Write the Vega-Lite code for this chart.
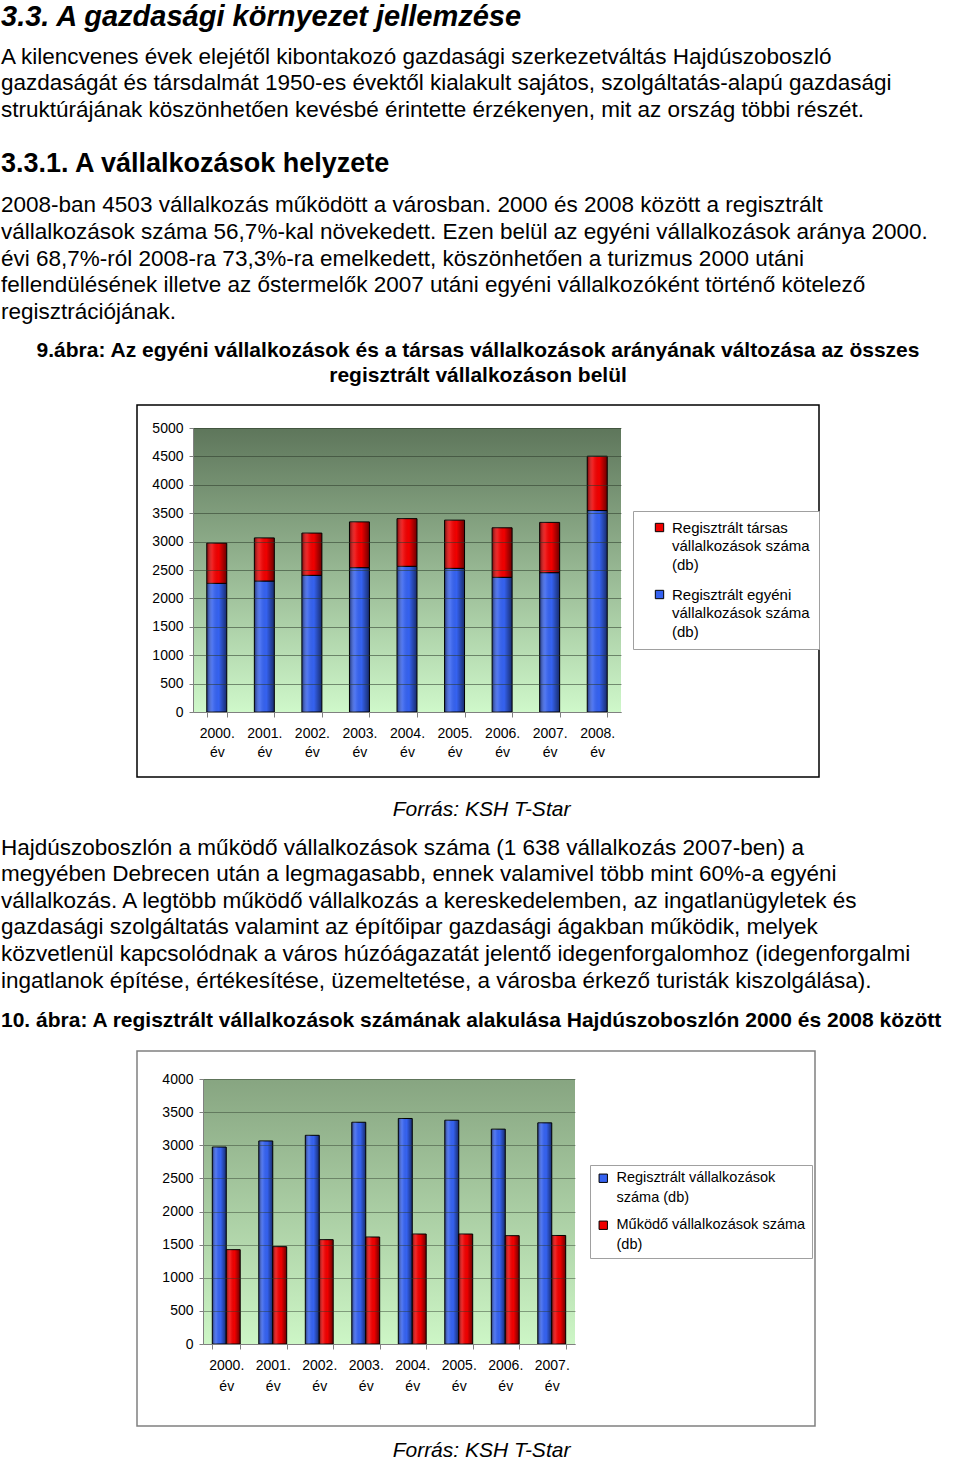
{
  "$schema": "https://vega.github.io/schema/vega-lite/v6.json",
  "background": "white",
  "padding": {"left": 0, "top": 2, "right": 0, "bottom": 0},
  "config": {
    "font": "Liberation Sans",
    "view": {"stroke": "#000", "strokeWidth": 1.5},
    "title": {"color": "#000", "subtitleColor": "#000", "font": "Liberation Sans", "subtitleFont": "Liberation Sans"},
    "axis": {"labelColor": "#000", "labelFont": "Liberation Sans", "labelFontSize": 14, "domainColor": "#808080", "tickColor": "#808080"}
  },
  "resolve": {"scale": {"color": "independent"}, "legend": {"color": "independent"}},
  "datasets": {
    "c1": [
      {"year": "2000. év", "kind": "Regisztrált egyéni vállalkozások száma (db)", "value": 2265},
      {"year": "2001. év", "kind": "Regisztrált egyéni vállalkozások száma (db)", "value": 2306},
      {"year": "2002. év", "kind": "Regisztrált egyéni vállalkozások száma (db)", "value": 2406},
      {"year": "2003. év", "kind": "Regisztrált egyéni vállalkozások száma (db)", "value": 2541},
      {"year": "2004. év", "kind": "Regisztrált egyéni vállalkozások száma (db)", "value": 2565},
      {"year": "2005. év", "kind": "Regisztrált egyéni vállalkozások száma (db)", "value": 2529},
      {"year": "2006. év", "kind": "Regisztrált egyéni vállalkozások száma (db)", "value": 2371},
      {"year": "2007. év", "kind": "Regisztrált egyéni vállalkozások száma (db)", "value": 2453},
      {"year": "2008. év", "kind": "Regisztrált egyéni vállalkozások száma (db)", "value": 3547},
      {"year": "2000. év", "kind": "Regisztrált társas vállalkozások száma (db)", "value": 708},
      {"year": "2001. év", "kind": "Regisztrált társas vállalkozások száma (db)", "value": 759},
      {"year": "2002. év", "kind": "Regisztrált társas vállalkozások száma (db)", "value": 744},
      {"year": "2003. év", "kind": "Regisztrált társas vállalkozások száma (db)", "value": 806},
      {"year": "2004. év", "kind": "Regisztrált társas vállalkozások száma (db)", "value": 839},
      {"year": "2005. év", "kind": "Regisztrált társas vállalkozások száma (db)", "value": 849},
      {"year": "2006. év", "kind": "Regisztrált társas vállalkozások száma (db)", "value": 872},
      {"year": "2007. év", "kind": "Regisztrált társas vállalkozások száma (db)", "value": 885},
      {"year": "2008. év", "kind": "Regisztrált társas vállalkozások száma (db)", "value": 956}
    ],
    "c2": [
      {"year": "2000. év", "kind": "Regisztrált vállalkozások száma (db)", "value": 2973},
      {"year": "2001. év", "kind": "Regisztrált vállalkozások száma (db)", "value": 3065},
      {"year": "2002. év", "kind": "Regisztrált vállalkozások száma (db)", "value": 3150},
      {"year": "2003. év", "kind": "Regisztrált vállalkozások száma (db)", "value": 3347},
      {"year": "2004. év", "kind": "Regisztrált vállalkozások száma (db)", "value": 3404},
      {"year": "2005. év", "kind": "Regisztrált vállalkozások száma (db)", "value": 3378},
      {"year": "2006. év", "kind": "Regisztrált vállalkozások száma (db)", "value": 3243},
      {"year": "2007. év", "kind": "Regisztrált vállalkozások száma (db)", "value": 3338},
      {"year": "2000. év", "kind": "Működő vállalkozások száma (db)", "value": 1424},
      {"year": "2001. év", "kind": "Működő vállalkozások száma (db)", "value": 1469},
      {"year": "2002. év", "kind": "Működő vállalkozások száma (db)", "value": 1575},
      {"year": "2003. év", "kind": "Működő vállalkozások száma (db)", "value": 1615},
      {"year": "2004. év", "kind": "Működő vállalkozások száma (db)", "value": 1660},
      {"year": "2005. év", "kind": "Működő vállalkozások száma (db)", "value": 1660},
      {"year": "2006. év", "kind": "Működő vállalkozások száma (db)", "value": 1635},
      {"year": "2007. év", "kind": "Működő vállalkozások száma (db)", "value": 1638}
    ]
  },
  "title": {
    "text": "3.3. A gazdasági környezet jellemzése",
    "subtitle": [
      "A kilencvenes évek elejétől kibontakozó gazdasági szerkezetváltás Hajdúszoboszló",
      "gazdaságát és társdalmát 1950-es évektől kialakult sajátos, szolgáltatás-alapú gazdasági",
      "struktúrájának köszönhetően kevésbé érintette érzékenyen, mit az ország többi részét."
    ],
    "anchor": "start", "frame": "group", "dx": -136,
    "fontSize": 29, "fontStyle": "italic", "fontWeight": "bold",
    "subtitleFontSize": 22.5, "subtitleLineHeight": 26.6, "subtitlePadding": 14, "offset": 29
  },
  "spacing": 15,
  "vconcat": [
    {
      "title": {
        "text": "3.3.1. A vállalkozások helyzete",
        "subtitle": [
          "2008-ban 4503 vállalkozás működött a városban. 2000 és 2008 között a regisztrált",
          "vállalkozások száma 56,7%-kal növekedett. Ezen belül az egyéni vállalkozások aránya 2000.",
          "évi 68,7%-ról 2008-ra 73,3%-ra emelkedett, köszönhetően a turizmus 2000 utáni",
          "fellendülésének illetve az őstermelők 2007 utáni egyéni vállalkozóként történő kötelező",
          "regisztrációjának."
        ],
        "anchor": "start", "frame": "group", "dx": -136,
        "fontSize": 27, "fontWeight": "bold",
        "subtitleFontSize": 22.5, "subtitleLineHeight": 26.6, "subtitlePadding": 16, "offset": 15
      },
      "vconcat": [
        {
          "width": 682, "height": 372,
          "title": {
            "text": ["9.ábra: Az egyéni vállalkozások és a társas vállalkozások arányának változása az összes", "regisztrált vállalkozáson belül"],
            "anchor": "middle", "frame": "group", "fontSize": 21, "fontWeight": "bold", "lineHeight": 25, "offset": 19
          },
          "resolve": {"scale": {"x": "independent"}},
          "layer": [
            {
              "data": {"values": [{}]},
              "mark": {"type": "rect", "zindex": 0, "color": {"gradient": "linear", "x1": 0, "y1": 0, "x2": 0, "y2": 1, "stops": [{"offset": 0, "color": "#5e765b"}, {"offset": 1, "color": "#cff8ca"}]}},
              "encoding": {
                "x": {"datum": 0, "type": "quantitative", "scale": {"domain": [0, 1], "range": [56, 484]}, "axis": null},
                "x2": {"datum": 1},
                "y": {
                  "datum": 0, "type": "quantitative", "title": null,
                  "axis": {
                    "offset": -56, "grid": true, "gridColor": "#2c3a2a", "gridOpacity": 0.55, "format": "d", "labelOverlap": false,
                    "values": [0, 500, 1000, 1500, 2000, 2500, 3000, 3500, 4000, 4500, 5000],
                    "labelPadding": 6, "tickSize": 4, "zindex": 1
                  }
                },
                "y2": {"datum": 5000}
              }
            },
            {
              "data": {"name": "c1"},
              "mark": {"type": "bar", "stroke": "#000", "strokeWidth": 1, "zindex": 2},
              "encoding": {
                "x": {
                  "field": "year", "type": "nominal",
                  "scale": {"range": [56, 484], "paddingInner": 0.58, "paddingOuter": 0.29},
                  "axis": {
                    "orient": "bottom", "offset": -65, "labelExpr": "split(datum.label, ' ')", "labelAngle": 0,
                    "labelPadding": 9, "labelLineHeight": 19, "labelBaseline": "top", "labelOverlap": false,
                    "tickBand": "extent", "tickSize": 5, "zindex": 1,
                    "title": "Forrás: KSH T-Star", "titleFontStyle": "italic", "titleFontWeight": "normal",
                    "titleFontSize": 21, "titleX": 344, "titleY": 97, "titleBaseline": "middle", "titleAlign": "center"
                  }
                },
                "y": {
                  "field": "value", "type": "quantitative", "stack": "zero", "title": null,
                  "scale": {"domain": [0, 5000], "range": [307, 23]},
                  "axis": {
                    "offset": -56, "grid": true, "gridColor": "#2c3a2a", "gridOpacity": 0.55, "format": "d", "labelOverlap": false,
                    "values": [0, 500, 1000, 1500, 2000, 2500, 3000, 3500, 4000, 4500, 5000],
                    "labelPadding": 6, "tickSize": 4, "zindex": 1
                  }
                },
                "color": {
                  "field": "kind", "type": "nominal",
                  "scale": {
                    "domain": ["Regisztrált társas vállalkozások száma (db)", "Regisztrált egyéni vállalkozások száma (db)"],
                    "range": ["#f00000", "#3562f0"]
                  },
                  "legend": {
                    "orient": "none", "legendX": 496, "legendY": 106, "title": null,
                    "padding": 9, "strokeColor": "#a0a0a0", "fillColor": "#fff",
                    "symbolType": "square", "symbolSize": 70, "symbolStrokeColor": "#000", "symbolStrokeWidth": 1,
                    "symbolOffset": 10, "labelOffset": 5,
                    "labelFontSize": 15, "labelLimit": 300, "rowPadding": 14,
                    "encode": {"labels": {"update": {"lineHeight": {"value": 18.5}}}},
                    "labelExpr": "datum.label == 'Regisztrált társas vállalkozások száma (db)' ? ['Regisztrált társas', 'vállalkozások száma', '(db)'] : ['Regisztrált egyéni', 'vállalkozások száma', '(db)']"
                  }
                },
                "order": {"field": "kind", "sort": "ascending"}
              }
            },
            {
              "data": {"name": "c1"},
              "mark": {"type": "bar", "strokeWidth": 0, "zindex": 3, "color": {"gradient": "linear", "x1": 0, "y1": 0, "x2": 1, "y2": 0, "stops": [{"offset": 0, "color": "rgba(0,0,0,0.5)"}, {"offset": 0.3, "color": "rgba(255,255,255,0.12)"}, {"offset": 0.6, "color": "rgba(0,0,0,0)"}, {"offset": 1, "color": "rgba(0,0,0,0.55)"}]}},
              "encoding": {
                "x": {"field": "year", "type": "nominal", "scale": {"range": [56, 484], "paddingInner": 0.58, "paddingOuter": 0.29}, "axis": null},
                "y": {
                  "field": "value", "type": "quantitative", "stack": "zero", "title": null,
                  "axis": {
                    "offset": -56, "grid": true, "gridColor": "#2c3a2a", "gridOpacity": 0.55, "format": "d", "labelOverlap": false,
                    "values": [0, 500, 1000, 1500, 2000, 2500, 3000, 3500, 4000, 4500, 5000],
                    "labelPadding": 6, "tickSize": 4, "zindex": 1
                  }
                },
                "detail": {"field": "kind"},
                "order": {"field": "kind", "sort": "ascending"}
              }
            }
          ]
        }
      ]
    },
    {
      "width": 678, "height": 375,
      "view": {"stroke": "#808080", "strokeWidth": 1.5},
      "title": {
        "text": [
          "Hajdúszoboszlón a működő vállalkozások száma (1 638 vállalkozás 2007-ben) a",
          "megyében Debrecen után a legmagasabb, ennek valamivel több mint 60%-a egyéni",
          "vállalkozás. A legtöbb működő vállalkozás a kereskedelemben, az ingatlanügyletek és",
          "gazdasági szolgáltatás valamint az építőipar gazdasági ágakban működik, melyek",
          "közvetlenül kapcsolódnak a város húzóágazatát jelentő idegenforgalomhoz (idegenforgalmi",
          "ingatlanok építése, értékesítése, üzemeltetése, a városba érkező turisták kiszolgálása)."
        ],
        "subtitle": "10. ábra: A regisztrált vállalkozások számának alakulása Hajdúszoboszlón 2000 és 2008 között",
        "anchor": "start", "frame": "group", "dx": -136,
        "fontSize": 22.5, "fontWeight": "normal", "lineHeight": 26.6,
        "subtitleFontSize": 21, "subtitleFontWeight": "bold", "subtitlePadding": 18, "offset": 20
      },
      "resolve": {"scale": {"x": "independent"}},
      "layer": [
        {
          "data": {"values": [{}]},
          "mark": {"type": "rect", "zindex": 0, "color": {"gradient": "linear", "x1": 0, "y1": 0, "x2": 0, "y2": 1, "stops": [{"offset": 0, "color": "#87a581"}, {"offset": 1, "color": "#cdf6c6"}]}},
          "encoding": {
            "x": {"datum": 0, "type": "quantitative", "scale": {"domain": [0, 1], "range": [66, 438]}, "axis": null},
            "x2": {"datum": 1},
            "y": {
              "datum": 0, "type": "quantitative", "title": null,
              "axis": {
                "offset": -66, "grid": true, "gridColor": "#2c3a2a", "gridOpacity": 0.45, "format": "d", "labelOverlap": false,
                "values": [0, 500, 1000, 1500, 2000, 2500, 3000, 3500, 4000],
                "labelPadding": 6, "tickSize": 4, "zindex": 1
              }
            },
            "y2": {"datum": 4000}
          }
        },
        {
          "data": {"name": "c2"},
          "mark": {"type": "bar", "stroke": "#000", "strokeWidth": 1, "zindex": 2},
          "encoding": {
            "x": {
              "field": "year", "type": "nominal",
              "scale": {"range": [66, 438], "paddingInner": 0.4, "paddingOuter": 0.2},
              "axis": {
                "orient": "bottom", "offset": -82, "labelExpr": "split(datum.label, ' ')", "labelAngle": 0,
                "labelPadding": 9, "labelLineHeight": 21, "labelBaseline": "top", "labelOverlap": false,
                "tickBand": "extent", "tickSize": 5, "zindex": 1,
                "title": "Forrás: KSH T-Star", "titleFontStyle": "italic", "titleFontWeight": "normal",
                "titleFontSize": 21, "titleX": 344, "titleY": 106, "titleBaseline": "middle", "titleAlign": "center"
              }
            },
            "xOffset": {"field": "kind", "type": "nominal", "sort": ["Regisztrált vállalkozások száma (db)", "Működő vállalkozások száma (db)"], "scale": {"paddingInner": 0}},
            "y": {
              "field": "value", "type": "quantitative", "title": null,
              "scale": {"domain": [0, 4000], "range": [293, 28]},
              "axis": {
                "offset": -66, "grid": true, "gridColor": "#2c3a2a", "gridOpacity": 0.45, "format": "d", "labelOverlap": false,
                "values": [0, 500, 1000, 1500, 2000, 2500, 3000, 3500, 4000],
                "labelPadding": 6, "tickSize": 4, "zindex": 1
              }
            },
            "color": {
              "field": "kind", "type": "nominal",
              "scale": {
                "domain": ["Regisztrált vállalkozások száma (db)", "Működő vállalkozások száma (db)"],
                "range": ["#3562f0", "#f00000"]
              },
              "legend": {
                "orient": "none", "legendX": 453, "legendY": 114, "title": null,
                "padding": 6, "strokeColor": "#a0a0a0", "fillColor": "#fff",
                "symbolType": "square", "symbolSize": 70, "symbolStrokeColor": "#000", "symbolStrokeWidth": 1,
                "labelOffset": 6, "labelFontSize": 14.5, "labelLimit": 300, "rowPadding": 12,
                "encode": {"labels": {"update": {"lineHeight": {"value": 20}}}},
                "labelExpr": "datum.label == 'Regisztrált vállalkozások száma (db)' ? ['Regisztrált vállalkozások', 'száma (db)'] : ['Működő vállalkozások száma', '(db)']"
              }
            }
          }
        },
        {
          "data": {"name": "c2"},
          "mark": {"type": "bar", "strokeWidth": 0, "zindex": 3, "color": {"gradient": "linear", "x1": 0, "y1": 0, "x2": 1, "y2": 0, "stops": [{"offset": 0, "color": "rgba(0,0,0,0.5)"}, {"offset": 0.3, "color": "rgba(255,255,255,0.12)"}, {"offset": 0.6, "color": "rgba(0,0,0,0)"}, {"offset": 1, "color": "rgba(0,0,0,0.55)"}]}},
          "encoding": {
            "x": {"field": "year", "type": "nominal", "scale": {"range": [66, 438], "paddingInner": 0.4, "paddingOuter": 0.2}, "axis": null},
            "xOffset": {"field": "kind", "type": "nominal", "sort": ["Regisztrált vállalkozások száma (db)", "Működő vállalkozások száma (db)"], "scale": {"paddingInner": 0}},
            "y": {
              "field": "value", "type": "quantitative", "title": null,
              "axis": {
                "offset": -66, "grid": true, "gridColor": "#2c3a2a", "gridOpacity": 0.45, "format": "d", "labelOverlap": false,
                "values": [0, 500, 1000, 1500, 2000, 2500, 3000, 3500, 4000],
                "labelPadding": 6, "tickSize": 4, "zindex": 1
              }
            }
          }
        }
      ]
    }
  ]
}
